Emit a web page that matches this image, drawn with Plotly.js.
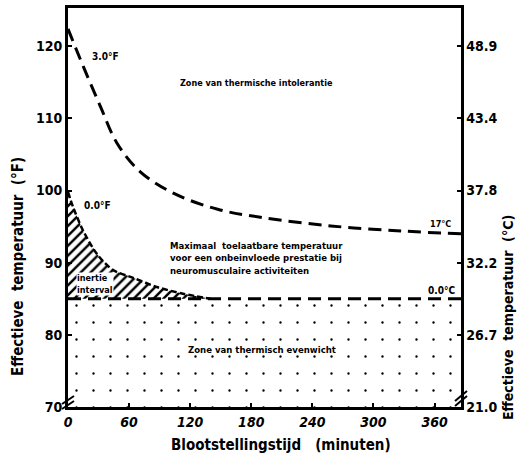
<!DOCTYPE html>
<html>
<head>
<meta charset="utf-8">
<script src="https://cdn.plot.ly/plotly-3.0.1.min.js"></script>
<style>html,body{margin:0;padding:0;background:#fff;}#chart{width:517px;height:463px;}</style>
</head>
<body>
<div id="chart"></div>
<script>
// ---- data ----
const upperX = [0, 15, 32, 48, 71, 104, 147, 189, 258, 327, 386];
const upperY = [122.4, 117.2, 111.6, 106.6, 102.6, 99.6, 97.4, 96.3, 95.1, 94.4, 94.0];
const lowerX = [0, 386];
const lowerY = [85, 85];
const hatchX = [0, 5, 15, 29, 44, 64, 88, 113, 140];
const hatchY = [99.8, 97.7, 94.4, 91.1, 89.0, 87.9, 86.6, 85.7, 85.0];
const xTickVals = [0, 60, 120, 180, 240, 300, 360];
const yTickVals = [70, 80, 90, 100, 110, 120];
const yTickText = ['70', '80', '90', '100', '110', '120'];
const cTickText = ['21.0', '26.7', '32.2', '37.8', '43.4', '48.9'];
const xRange = [0, 386];
const yRange = [70, 125.3];

const F = 'DejaVu Sans Condensed, DejaVu Sans, Liberation Sans Narrow, sans-serif';
const dash = '13px,7px';

const traces = [
  { // stippled equilibrium zone
    x: lowerX, y: lowerY, type: 'scatter', mode: 'lines',
    line: {width: 0, color: 'rgba(0,0,0,0)'}, fill: 'tozeroy', fillcolor: 'rgba(0,0,0,0)',
    fillpattern: {shape: '.', fgcolor: '#000', bgcolor: '#fff', size: 17, solidity: 0.015},
    hoverinfo: 'skip', showlegend: false
  },
  { // hatched inertia interval
    x: hatchX.concat([0]), y: hatchY.concat([lowerY[0]]), type: 'scatter', mode: 'lines',
    line: {width: 0, color: 'rgba(0,0,0,0)'}, fill: 'toself', fillcolor: 'rgba(0,0,0,0)',
    fillpattern: {shape: '/', fgcolor: '#000', bgcolor: '#fff', size: 7, solidity: 0.35},
    hoverinfo: 'skip', showlegend: false
  },
  {
    x: hatchX, y: hatchY, type: 'scatter', mode: 'lines',
    line: {color: '#000', width: 2.5, dash: '6px,3px', shape: 'spline', smoothing: 0.8}, showlegend: false
  },
  {
    x: upperX, y: upperY, type: 'scatter', mode: 'lines',
    line: {color: '#000', width: 3, dash: dash, shape: 'spline', smoothing: 1}, showlegend: false
  },
  {
    x: lowerX, y: lowerY, type: 'scatter', mode: 'lines',
    line: {color: '#000', width: 3, dash: dash}, showlegend: false
  },
  { // dummy for right axis
    x: [xRange[0]], y: [yRange[0]], yaxis: 'y2', type: 'scatter', mode: 'markers',
    marker: {opacity: 0}, hoverinfo: 'skip', showlegend: false
  }
];

const W = 517, H = 463, L = 68, R = 56, T = 8, B = 56;
const pw = W - L - R, ph = H - T - B;
const px = v => (v - L) / pw;
const py = v => (H - B - v) / ph;
function seg(x0, y0, x1, y1, w) {
  return {type: 'line', xref: 'paper', yref: 'paper', x0: px(x0), y0: py(y0), x1: px(x1), y1: py(y1),
          line: {color: '#000', width: w}};
}

const tf = {family: F, size: 10, color: '#000', weight: 'bold'};
function ann(x, y, text, opts) {
  return Object.assign({x: x, y: y, xref: 'x', yref: 'y', text: text, showarrow: false, font: tf,
                        xanchor: 'center', yanchor: 'middle'}, opts || {});
}
function pann(x, y, text, size, angle) {
  return {xref: 'paper', yref: 'paper', x: px(x), y: py(y), text: text, showarrow: false,
          xanchor: 'center', yanchor: 'middle', textangle: angle || 0,
          font: {family: F, size: size, color: '#000', weight: 'bold'}};
}

const layout = {
  width: W, height: H,
  margin: {l: L, r: R, t: T, b: B},
  paper_bgcolor: '#fff', plot_bgcolor: '#fff',
  showlegend: false,
  xaxis: {
    range: xRange, tickvals: xTickVals, ticks: 'inside', ticklen: 4, tickwidth: 2, tickcolor: '#000',
    showline: true, linewidth: 3, linecolor: '#000', mirror: true, showgrid: false, zeroline: false,
    tickfont: {family: F, size: 14, color: '#000', weight: 'bold', style: 'italic'}
  },
  yaxis: {
    range: yRange, tickvals: yTickVals, ticktext: yTickText, ticks: 'inside', ticklen: 4, tickwidth: 2,
    tickcolor: '#000', showline: true, linewidth: 3, linecolor: '#000', showgrid: false, zeroline: false,
    tickfont: {family: F, size: 14, color: '#000', weight: 'bold'}
  },
  yaxis2: {
    range: yRange, overlaying: 'y', side: 'right', tickvals: yTickVals, ticktext: cTickText,
    ticks: 'inside', ticklen: 4, tickwidth: 2, tickcolor: '#000', showline: true, linewidth: 2.5,
    linecolor: '#000', showgrid: false, zeroline: false,
    tickfont: {family: F, size: 14, color: '#000', weight: 'bold'}
  },
  shapes: [
    seg(62, 404, 74, 396, 2), seg(62, 409, 74, 401, 2),
    seg(455, 401, 467, 391, 2), seg(455, 406, 467, 396, 2)
  ],
  annotations: [
    ann(37, 118.6, '3.0°F'),
    ann(185, 114.9, 'Zone van thermische intolerantie', {font: Object.assign({}, tf, {size: 9})}),
    ann(14.5, 97.9, '0.0°F', {xanchor: 'left', bgcolor: '#fff', borderpad: 0}),
    ann(366, 95.4, '17°C', {font: Object.assign({}, tf, {size: 9})}),
    ann(98, 90.7, 'Maximaal  toelaatbare temperatuur<br>voor een onbeinvloede prestatie bij<br>neuromusculaire activiteiten',
        {xanchor: 'left', align: 'left', font: Object.assign({}, tf, {size: 9.5})}),
    ann(367, 86.1, '0.0°C'),
    ann(8, 87, 'inertie<br>interval', {xanchor: 'left', align: 'left', bgcolor: '#fff', borderpad: 0,
        font: Object.assign({}, tf, {size: 9})}),
    ann(191, 78, 'Zone van thermisch evenwicht', {font: Object.assign({}, tf, {size: 9.5})}),
    pann(281, 445, 'Blootstellingstijd   (minuten)', 15),
    pann(18, 267, 'Effectieve  temperatuur  (°F)', 15, -90),
    pann(508, 318, 'Effectieve  temperatuur  (°C)', 14, -90)
  ]
};

Plotly.newPlot('chart', traces, layout, {displayModeBar: false, staticPlot: true});
</script>
</body>
</html>
